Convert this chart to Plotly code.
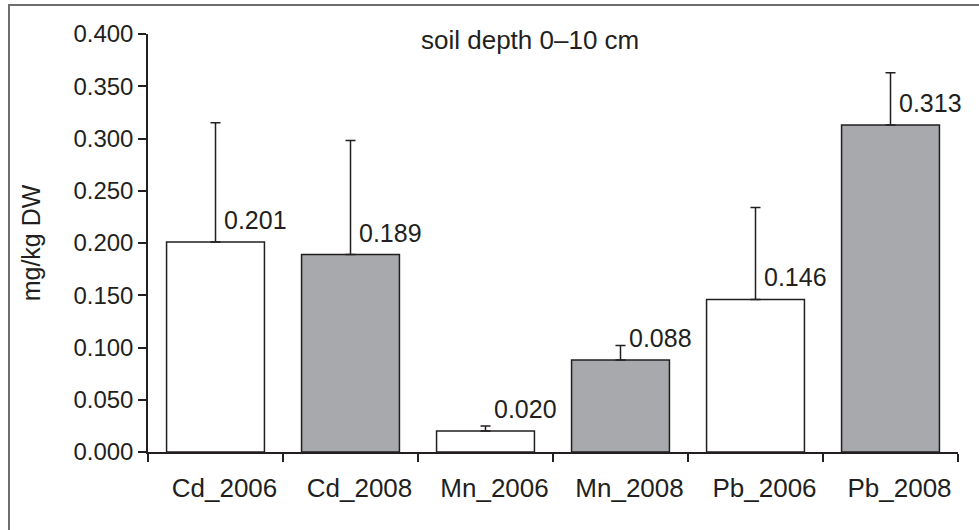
import plotly.graph_objects as go

categories = ["Cd_2006", "Cd_2008", "Mn_2006", "Mn_2008", "Pb_2006", "Pb_2008"]
values = [0.201, 0.189, 0.020, 0.088, 0.146, 0.313]
errors_plus = [0.114, 0.109, 0.005, 0.014, 0.088, 0.050]
value_labels = ["0.201", "0.189", "0.020", "0.088", "0.146", "0.313"]
tick_vals = [0, 0.05, 0.10, 0.15, 0.20, 0.25, 0.30, 0.35, 0.40]
tick_text = ["0.000", "0.050", "0.100", "0.150", "0.200", "0.250", "0.300", "0.350", "0.400"]

INK = "#231f20"
GRAY = "#a7a9ac"
fills = ["white", GRAY, "white", GRAY, "white", GRAY]
FONT = "Liberation Sans, Arial, sans-serif"

fig = go.Figure()
fig.add_trace(go.Bar(
    x=categories, y=values,
    marker=dict(color=fills, line=dict(color=INK, width=1.5)),
    error_y=dict(type="data", symmetric=False, array=errors_plus,
                 arrayminus=[0] * len(values), color=INK, thickness=1.5, width=5),
    showlegend=False, hoverinfo="skip",
))

for c, v, t in zip(categories, values, value_labels):
    fig.add_annotation(x=c, y=v, text=t, showarrow=False, xanchor="left", yanchor="middle",
                       xshift=6, yshift=22, font=dict(family=FONT, size=25, color=INK))

fig.add_annotation(text="soil depth 0–10 cm", xref="paper", yref="paper", x=0.472, y=1.0,
                   xanchor="center", yanchor="middle", yshift=-6, showarrow=False,
                   font=dict(family=FONT, size=26, color=INK))

fig.add_shape(type="rect", xref="paper", yref="paper", x0=-0.1716, x1=1.2, y0=-0.4, y1=1.0694,
              line=dict(color="#6d6e71", width=2), fillcolor="rgba(0,0,0,0)", layer="below")

fig.update_layout(
    width=979, height=530,
    margin=dict(l=148, r=21, t=34, b=78, autoexpand=False),
    plot_bgcolor="white", paper_bgcolor="white",
    bargap=0.275,
    font=dict(family=FONT, color=INK),
)
fig.update_xaxes(type="category", range=[-0.5, 5.5], tickson="boundaries", ticks="outside",
                 ticklen=8, tickwidth=1.5, tickcolor=INK, showline=True, linecolor=INK,
                 linewidth=1.5, showgrid=False, zeroline=False,
                 tickfont=dict(family=FONT, size=26, color=INK), ticklabelstandoff=12,
                 ticklabelshift=9)
fig.update_yaxes(range=[0, 0.4], tickvals=tick_vals, ticktext=tick_text, ticks="outside",
                 ticklen=8, tickwidth=1.5, tickcolor=INK, showline=True, linecolor=INK,
                 linewidth=1.5, showgrid=False, zeroline=False,
                 tickfont=dict(family=FONT, size=24, color=INK), ticklabelstandoff=0,
                 title=dict(text="mg/kg DW", font=dict(family=FONT, size=25, color=INK), standoff=26))

fig.write_html("out.html", config={"displayModeBar": False},
               post_script="document.body.style.margin='0';")
